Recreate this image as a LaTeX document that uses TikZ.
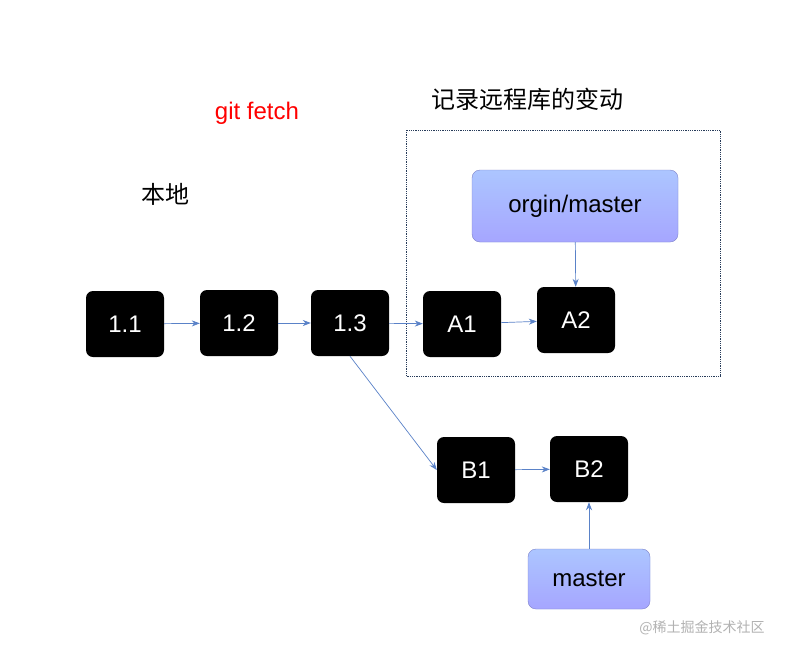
\documentclass[tikz,border=0pt]{standalone}
\usepackage{fontspec}
\setmainfont{Liberation Sans}
\newfontfamily\cjk{Noto Sans CJK SC}
\usetikzlibrary{arrows.meta}
\begin{document}
\begin{tikzpicture}[x=1pt,y=-1pt,
  c/.style={fill=black,rounded corners=7pt,minimum width=78pt,minimum height=66pt,text=white,font=\fontsize{24}{28}\selectfont,inner sep=0},
  r/.style={draw=blue!40!gray!70,fill=blue!25!cyan!20,top color=blue!25!white!90!cyan,bottom color=blue!35!white,rounded corners=8pt,font=\fontsize{24}{28}\selectfont,inner sep=0},
  a/.style={draw={rgb,255:red,90;green,130;blue,200},line width=0.7pt,-{Stealth[length=8pt,width=6pt]}}]
\useasboundingbox (0,0) rectangle (794,656);
\fill[white] (0,0) rectangle (794,656);
\node[c] (n11) at (125,324) {1.1};
\node[c] (n12) at (239,323) {1.2};
\node[c] (n13) at (350,323) {1.3};
\node[c] (a1) at (462,324) {A1};
\node[c] (a2) at (576,320) {A2};
\node[c] (b1) at (476,470) {B1};
\node[c] (b2) at (589,469) {B2};
\node[r,minimum width=206pt,minimum height=72pt] (om) at (575,206) {orgin/master};
\node[r,minimum width=122pt,minimum height=60pt] (m) at (589,579) {master};
\draw[densely dotted,line width=0.8pt,draw={rgb,255:red,40;green,60;blue,90}] (406,130) rectangle (720,376);
\node[text=red,font=\fontsize{24}{28}\selectfont] (gf) at (257,113) {git fetch};
\node[font=\cjk\fontsize{24}{28}\selectfont] (bd) at (165,194) {本地};
\node[font=\cjk\fontsize{24}{28}\selectfont] (jl) at (527,99) {记录远程库的变动};
\node[text=gray!60,font=\cjk\fontsize{14}{16}\selectfont] (wm) at (702,628) {@稀土掘金技术社区};
\draw[a] (n11) -- (n12);
\draw[a] (n12) -- (n13);
\draw[a] (n13) -- (a1);
\draw[a] (a1) -- (a2);
\draw[a] (b1) -- (b2);
\draw[a] (om) -- (a2);
\draw[a] (m) -- (b2);
\draw[a] (n13.south) -- (b1.west);
\end{tikzpicture}
\end{document}
